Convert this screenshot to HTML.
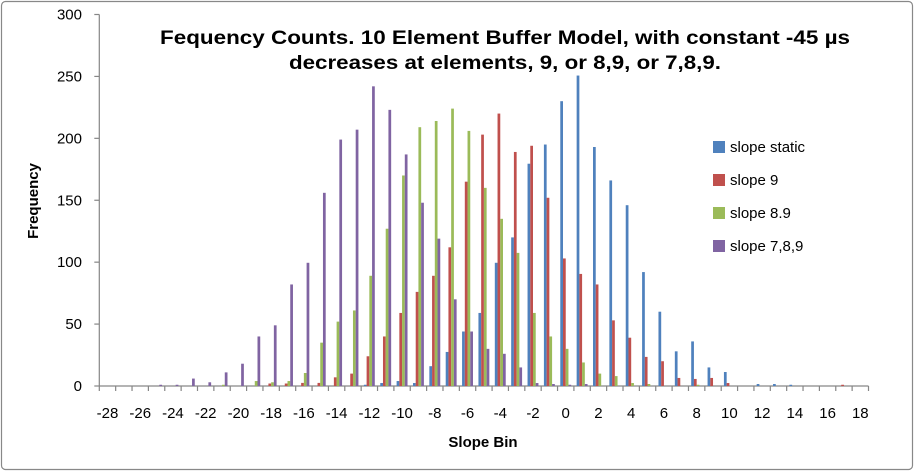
<!DOCTYPE html>
<html><head><meta charset="utf-8"><style>
html,body{margin:0;padding:0;background:#fff}
svg{display:block;font-family:"Liberation Sans",sans-serif}
</style></head><body>
<svg id="chart" width="915" height="472" viewBox="0 0 915 472" xmlns="http://www.w3.org/2000/svg">
<rect x="1.5" y="1.5" width="911" height="468" rx="4" fill="#fff" stroke="#888" stroke-width="1.2"/>
<g id="yaxis"></g>
<g id="xaxis"></g>
<g id="bars"></g>
<text x="505" y="44" font-size="19" font-weight="bold" text-anchor="middle" textLength="690" lengthAdjust="spacingAndGlyphs">Fequency Counts.  10 Element Buffer Model, with  constant -45 µs</text>
<text x="505" y="69" font-size="19" font-weight="bold" text-anchor="middle" textLength="432" lengthAdjust="spacingAndGlyphs">decreases at elements, 9, or 8,9, or 7,8,9.</text>
<text transform="translate(38,201) rotate(-90)" font-size="15" font-weight="bold" text-anchor="middle">Frequency</text>
<text x="483" y="447" font-size="15" font-weight="bold" text-anchor="middle">Slope Bin</text>
<g id="legend"></g>
</svg>
<script>
const categories = [];
for (let c = -28; c <= 18; c++) categories.push(c);
const seriesNames = ["slope static", "slope 9", "slope 8.9", "slope 7,8,9"];
const seriesColors = ["#4F81BD", "#C0504D", "#9BBB59", "#8064A2"];
//                      -28..-19                      -18..-9                                  -8..1                                        2..11                              12..18
const slopeStatic = [0,0,0,0,0,0,0,0,0,0,            0,0,0,0,0,0,1,2.4,4,2.4,                 16,27.5,44,59,99.5,120,179.5,195,230,250.7,  193,166,146,92,60,28,36,15,11.3,0,  1.6,1.6,1,0,0,0,0];
const slope9 =      [0,0,0,0,0,0,0,0,0,0,            2,2,2.5,2.5,7,10,24,40,59,76,            89,112,165,203,220,189,194,152,103,90.5,     82,53,39,23.5,20,6.5,5.7,6.5,2.4,0, 0,0,0,0,0,1,0];
const slope89 =     [0,0,0,0,0,0,0,1,0,4,            3,4,10.5,35,52,61,89,127,170,209,        214,224,206,160,135,107.5,59,40,30,19,       10,8,2.4,1.6,0,0,1,0,0,0,            0,0,0,0,0,0,0];
const slope789 =    [0,0,0,1,1,6,3,11,18,40,         49,82,99.5,156,199,207,242,223,187,148,  119,70,44,30,26,15,2.4,1.6,1,1.6,         0,0,0,0,0,0,0,0,0,0,                0,0,0,0,0,0,0];
const series = [slopeStatic, slope9, slope89, slope789];
const yTicks = [0,50,100,150,200,250,300];
const xTickLabels = [-28,-26,-24,-22,-20,-18,-16,-14,-12,-10,-8,-6,-4,-2,0,2,4,6,8,10,12,14,16,18];

const NS = "http://www.w3.org/2000/svg";
const X0 = 99.3, X1 = 868.5, Y0 = 386, Y1 = 14.5, YMAX = 300;
const bw = (X1 - X0) / categories.length;
const barW = bw / 6;
function xBand(i){ return X0 + i * bw; }
function yScale(v){ return Y0 - (v / YMAX) * (Y0 - Y1); }
function mk(tag, attrs, parent){
  const e = document.createElementNS(NS, tag);
  for (const k in attrs) e.setAttribute(k, attrs[k]);
  parent.appendChild(e);
  return e;
}
const gy = document.getElementById("yaxis");
const gx = document.getElementById("xaxis");
const gb = document.getElementById("bars");
const gl = document.getElementById("legend");

let l = mk("line", {x1:X0, y1:Y1, x2:X0, y2:Y0, stroke:"#868686", "stroke-width":1.2}, gy);


yTicks.forEach(v => {
  const y = yScale(v);
  const t = mk("line", {x1:X0-5, y1:y, x2:X0, y2:y, stroke:"#868686", "stroke-width":1.2}, gy);
  
  
  const tx = mk("text", {x:82, y:y+5, "font-size":15, "text-anchor":"end", fill:"#000"}, gy);
  tx.textContent = v;
  
  
});

l = mk("line", {x1:X0, y1:Y0, x2:X1, y2:Y0, stroke:"#868686", "stroke-width":1.2}, gx);


for (let i = 0; i <= categories.length; i++) {
  const x = xBand(i);
  const t = mk("line", {x1:x, y1:Y0, x2:x, y2:Y0+5, stroke:"#868686", "stroke-width":1.2}, gx);
  
  
}
xTickLabels.forEach(c => {
  const i = categories.indexOf(c);
  const tx = mk("text", {x:xBand(i)+bw/2, y:418, "font-size":15, "text-anchor":"middle", fill:"#000"}, gx);
  tx.textContent = c;
  
  
});

series.forEach((vals, s) => {
  vals.forEach((v, i) => {
    if (!v) return;
    const y = yScale(v);
    const r = mk("rect", {x:xBand(i)+barW*(1+s), y:y, width:barW, height:Y0-y, fill:seriesColors[s]}, gb);
    
    
  });
});

seriesNames.forEach((n, s) => {
  const y = 147 + s * 33;
  const r = mk("rect", {x:713, y:y-6, width:12, height:12, fill:seriesColors[s]}, gl);
  
  
  const t = mk("text", {x:730, y:y+5, "font-size":15, fill:"#000"}, gl);
  t.textContent = n;
  
  
});
</script>
</body></html>
